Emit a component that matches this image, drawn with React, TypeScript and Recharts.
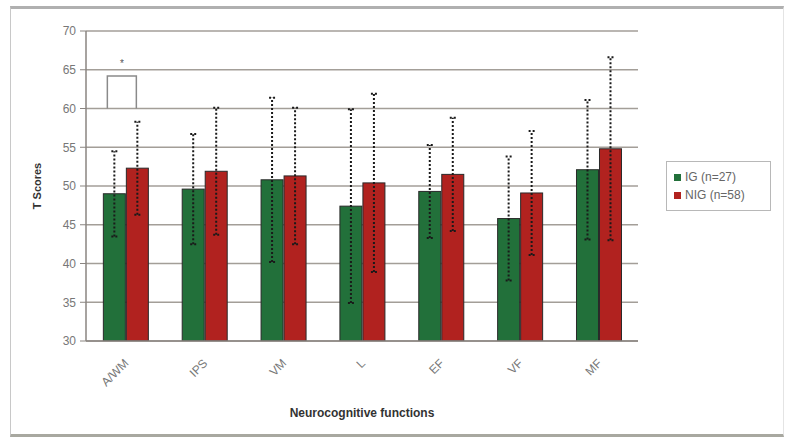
import {
  Bar,
  BarChart,
  CartesianGrid,
  ErrorBar,
  XAxis,
  YAxis,
} from "recharts";

const categories = ["A/WM", "IPS", "VM", "L", "EF", "VF", "MF"];
const igMeans = [49.0, 49.6, 50.8, 47.4, 49.3, 45.8, 52.1];
const igSd = [5.5, 7.1, 10.6, 12.5, 6.0, 8.0, 9.0];
const nigMeans = [52.3, 51.9, 51.3, 50.4, 51.5, 49.1, 54.8];
const nigSd = [6.0, 8.2, 8.8, 11.5, 7.3, 8.0, 11.8];
const significant = ["A/WM"];
const yTicks = [30, 35, 40, 45, 50, 55, 60, 65, 70];
const seriesNames = ["IG (n=27)", "NIG (n=58)"];
const seriesColors = ["#22703a", "#b1221f"];

const Y_MIN = 30;
const BRACKET_LOW = 60;
const BRACKET_HIGH = 64.2;
const STAR_AT = 65.9;

const data = categories.map((name, i) => ({
  name,
  ig: igMeans[i],
  igSd: igSd[i],
  nig: nigMeans[i],
  nigSd: nigSd[i],
  sig: significant.includes(name),
}));

const font = "'Liberation Sans', Arial, sans-serif";

// bar with optional significance bracket drawn from the bar's own scale
function IgBar(props: any) {
  const { x, y, width, height, fill, payload, value } = props;
  const v = Array.isArray(value) ? value[1] : value;
  const rect = (
    <rect x={x} y={y} width={width} height={height} fill={fill} stroke="#2a2a2a" strokeWidth={1} />
  );
  if (!payload?.sig) return rect;
  const ppu = height / (v - Y_MIN);
  const base = y + height;
  const yLow = base - (BRACKET_LOW - Y_MIN) * ppu;
  const yHigh = base - (BRACKET_HIGH - Y_MIN) * ppu;
  const yStar = base - (STAR_AT - Y_MIN) * ppu;
  const left = x + 4;
  const right = x + 33;
  return (
    <g>
      {rect}
      <path
        d={`M${left},${yLow} L${left},${yHigh} L${right},${yHigh} L${right},${yLow}`}
        fill="none"
        stroke="#8a8a8a"
        strokeWidth={1.5}
      />
      <text x={(left + right) / 2} y={yStar + 4} textAnchor="middle" fontSize={10} fill="#555" fontFamily={font}>
        *
      </text>
    </g>
  );
}

function NigBar(props: any) {
  const { x, y, width, height, fill } = props;
  return <rect x={x} y={y} width={width} height={height} fill={fill} stroke="#2a2a2a" strokeWidth={1} />;
}

function XTick(props: any) {
  const { x, y, payload } = props;
  return (
    <text
      x={x + 4}
      y={y + 15}
      transform={`rotate(-45, ${x + 4}, ${y + 15})`}
      textAnchor="end"
      fontSize={12}
      fill="#777"
      fontFamily={font}
    >
      {payload.value}
    </text>
  );
}

export default function App() {
  return (
    <div style={{ position: "absolute", left: 0, top: 0, width: 791, height: 437, background: "#fff" }}>
      <div
        style={{
          position: "absolute",
          left: 10,
          top: 6,
          width: 772,
          height: 425,
          borderTop: "3px solid #b0b0b0",
          borderLeft: "1px solid #c8c8c8",
          borderRight: "1px solid #e4e4e4",
          borderBottom: "3px solid #a8a8a0",
        }}
      />
      <div style={{ position: "absolute", left: 0, top: 0 }}>
        <BarChart
          width={791}
          height={437}
          data={data}
          margin={{ top: 31, right: 153, bottom: 0, left: 0 }}
          barCategoryGap="22%"
          barGap={1}
        >
          <CartesianGrid vertical={false} stroke="#a39e98" strokeWidth={1.5} />
          <XAxis
            dataKey="name"
            height={96}
            tick={<XTick />}
            tickLine={false}
            axisLine={{ stroke: "#8a8580", strokeWidth: 1.5 }}
            interval={0}
            label={{
              value: "Neurocognitive functions",
              position: "insideBottom",
              offset: 20,
              style: { fontSize: 12, fontWeight: "bold", fill: "#333", fontFamily: font },
            }}
          />
          <YAxis
            width={86}
            domain={[30, 70]}
            ticks={yTicks}
            allowDataOverflow
            tick={{ fontSize: 12, fill: "#777", fontFamily: font }}
            tickSize={6}
            tickMargin={4}
            tickLine={{ stroke: "#8a8580" }}
            axisLine={{ stroke: "#8a8580", strokeWidth: 1.5 }}
            label={{
              value: "T Scores",
              angle: -90,
              position: "insideLeft",
              offset: 37,
              style: { fontSize: 11, fontWeight: "bold", fill: "#333", fontFamily: font, textAnchor: "middle" },
            }}
          />
          <YAxis
            yAxisId="frame"
            orientation="right"
            width={0}
            domain={[30, 70]}
            tick={false}
            tickLine={false}
            axisLine={{ stroke: "#a39e98", strokeWidth: 1.5 }}
          />
          <Bar dataKey="ig" name={seriesNames[0]} fill={seriesColors[0]} shape={<IgBar />} isAnimationActive={false}>
            <ErrorBar dataKey="igSd" width={3} stroke="#1a1a1a" strokeWidth={2} strokeDasharray="2 2" />
          </Bar>
          <Bar dataKey="nig" name={seriesNames[1]} fill={seriesColors[1]} shape={<NigBar />} isAnimationActive={false}>
            <ErrorBar dataKey="nigSd" width={3} stroke="#1a1a1a" strokeWidth={2} strokeDasharray="2 2" />
          </Bar>
        </BarChart>
      </div>
      <div
        style={{
          position: "absolute",
          left: 666,
          top: 161,
          width: 105,
          height: 50,
          border: "1px solid #b8b8b8",
          fontFamily: font,
          fontSize: 12,
          color: "#666",
          boxSizing: "border-box",
          padding: "6px 0 0 7px",
        }}
      >
        {seriesNames.map((n, i) => (
          <div key={n} style={{ display: "flex", alignItems: "center", height: 18 }}>
            <span
              style={{
                display: "inline-block",
                width: 7,
                height: 7,
                background: seriesColors[i],
                marginRight: 4,
              }}
            />
            {n}
          </div>
        ))}
      </div>
    </div>
  );
}
